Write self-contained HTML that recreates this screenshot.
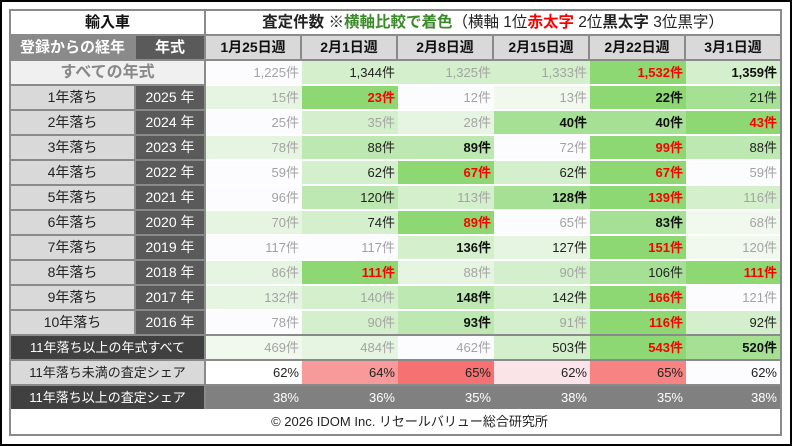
<!DOCTYPE html>
<html><head><meta charset="utf-8"><style>
*{margin:0;padding:0;box-sizing:border-box}
body{width:792px;height:446px;position:relative;background:#fff;font-family:"Liberation Sans","Noto Sans CJK JP",sans-serif;overflow:hidden}
#ob{position:absolute;left:0;top:0;width:792px;height:446px;border:2px solid #000}
#fr{position:absolute;left:9px;top:9px;width:773px;height:427px;background:#8a8a8a}
div.c{position:absolute;height:23px;line-height:23px;font-size:13px;white-space:nowrap;overflow:hidden}
.r{text-align:right;padding-right:3px}
.m{text-align:center}
.g{color:#a3a3a3}.k{color:#222}.b{color:#111;font-weight:bold}.red{color:#f00;font-weight:bold}
.l1{left:11px;width:123px;background:#d9d9d9;color:#222;font-size:14px!important;text-align:center}
.l2{left:136px;width:68px;background:#5a5a5a;color:#fff;font-size:14px!important;text-align:center}
.d1{left:206px;width:96px}.d2{left:302px;width:96px}.d3{left:398px;width:96px}.d4{left:494px;width:96px}.d5{left:590px;width:96px}.d6{left:686px;width:94px}
.h{background:#d9d9d9;font-weight:bold;font-size:14px!important;text-align:center;color:#111;width:94px}
.w0{background:#fcfcfe}.w1{background:#f1f9ee}.w2{background:#e6f5e1}.w3{background:#d4efcb}.w4{background:#bde8b1}.w5{background:#a6e095}.w6{background:#8ed873}
</style></head><body>
<div id="ob"></div>
<div id="fr"></div>
<div style="position:absolute;left:206px;top:84px;width:574px;height:250px;background:#fff"></div>
<div style="position:absolute;left:11px;top:409px;width:769px;height:25px;background:#fff;font-size:13px;line-height:26px;text-align:center;color:#222;padding-left:28px">© 2026 IDOM Inc. リセールバリュー総合研究所</div>

<div class="c m" style="left:11px;top:11px;width:193px;background:#fff;font-weight:bold;font-size:15px;color:#111">輸入車</div>
<div class="c m" style="left:206px;top:11px;width:574px;background:#fff;font-size:15.5px;color:#222"><b>査定件数</b> ※<b style="color:#3a8a2a">横軸比較で着色</b>（横軸 1位<b style="color:#f00">赤太字</b> 2位<b>黒太字</b> 3位黒字）</div>

<div class="c m" style="left:11px;top:36px;width:123px;background:#8a8a8a;color:#fff;font-weight:bold;font-size:15px">登録からの経年</div>
<div class="c m" style="left:136px;top:36px;width:68px;background:#5a5a5a;color:#fff;font-weight:bold;font-size:15px">年式</div>
<div class="c h d1" style="top:36px;width:94px">1月25日週</div>
<div class="c h d2" style="top:36px;width:94px">2月1日週</div>
<div class="c h d3" style="top:36px;width:94px">2月8日週</div>
<div class="c h d4" style="top:36px;width:94px">2月15日週</div>
<div class="c h d5" style="top:36px;width:94px">2月22日週</div>
<div class="c h d6" style="top:36px;width:94px">3月1日週</div>

<div class="c m" style="left:11px;top:61px;width:193px;background:#f0f0f0;color:#888;font-weight:bold;font-size:16px">すべての年式</div>
<div class="c r d1 w0 g" style="top:61px">1,225件</div><div class="c r d2 w3 k" style="top:61px">1,344件</div><div class="c r d3 w3 g" style="top:61px">1,325件</div><div class="c r d4 w3 g" style="top:61px">1,333件</div><div class="c r d5 w6 red" style="top:61px">1,532件</div><div class="c r d6 w3 b" style="top:61px">1,359件</div>

<div class="c l1" style="top:86px">1年落ち</div><div class="c l2" style="top:86px">2025 年</div>
<div class="c r d1 w2 g" style="top:86px">15件</div><div class="c r d2 w6 red" style="top:86px">23件</div><div class="c r d3 w0 g" style="top:86px">12件</div><div class="c r d4 w1 g" style="top:86px">13件</div><div class="c r d5 w6 b" style="top:86px">22件</div><div class="c r d6 w5 k" style="top:86px">21件</div>

<div class="c l1" style="top:111px">2年落ち</div><div class="c l2" style="top:111px">2024 年</div>
<div class="c r d1 w0 g" style="top:111px">25件</div><div class="c r d2 w3 g" style="top:111px">35件</div><div class="c r d3 w2 g" style="top:111px">28件</div><div class="c r d4 w5 b" style="top:111px">40件</div><div class="c r d5 w5 b" style="top:111px">40件</div><div class="c r d6 w6 red" style="top:111px">43件</div>

<div class="c l1" style="top:136px">3年落ち</div><div class="c l2" style="top:136px">2023 年</div>
<div class="c r d1 w2 g" style="top:136px">78件</div><div class="c r d2 w4 k" style="top:136px">88件</div><div class="c r d3 w4 b" style="top:136px">89件</div><div class="c r d4 w0 g" style="top:136px">72件</div><div class="c r d5 w6 red" style="top:136px">99件</div><div class="c r d6 w4 k" style="top:136px">88件</div>

<div class="c l1" style="top:161px">4年落ち</div><div class="c l2" style="top:161px">2022 年</div>
<div class="c r d1 w0 g" style="top:161px">59件</div><div class="c r d2 w3 k" style="top:161px">62件</div><div class="c r d3 w6 red" style="top:161px">67件</div><div class="c r d4 w3 k" style="top:161px">62件</div><div class="c r d5 w6 red" style="top:161px">67件</div><div class="c r d6 w0 g" style="top:161px">59件</div>

<div class="c l1" style="top:186px">5年落ち</div><div class="c l2" style="top:186px">2021 年</div>
<div class="c r d1 w0 g" style="top:186px">96件</div><div class="c r d2 w4 k" style="top:186px">120件</div><div class="c r d3 w3 g" style="top:186px">113件</div><div class="c r d4 w5 b" style="top:186px">128件</div><div class="c r d5 w6 red" style="top:186px">139件</div><div class="c r d6 w3 g" style="top:186px">116件</div>

<div class="c l1" style="top:211px">6年落ち</div><div class="c l2" style="top:211px">2020 年</div>
<div class="c r d1 w2 g" style="top:211px">70件</div><div class="c r d2 w3 k" style="top:211px">74件</div><div class="c r d3 w6 red" style="top:211px">89件</div><div class="c r d4 w0 g" style="top:211px">65件</div><div class="c r d5 w5 b" style="top:211px">83件</div><div class="c r d6 w1 g" style="top:211px">68件</div>

<div class="c l1" style="top:236px">7年落ち</div><div class="c l2" style="top:236px">2019 年</div>
<div class="c r d1 w0 g" style="top:236px">117件</div><div class="c r d2 w0 g" style="top:236px">117件</div><div class="c r d3 w3 b" style="top:236px">136件</div><div class="c r d4 w2 k" style="top:236px">127件</div><div class="c r d5 w6 red" style="top:236px">151件</div><div class="c r d6 w1 g" style="top:236px">120件</div>

<div class="c l1" style="top:261px">8年落ち</div><div class="c l2" style="top:261px">2018 年</div>
<div class="c r d1 w2 g" style="top:261px">86件</div><div class="c r d2 w6 red" style="top:261px">111件</div><div class="c r d3 w2 g" style="top:261px">88件</div><div class="c r d4 w3 g" style="top:261px">90件</div><div class="c r d5 w5 k" style="top:261px">106件</div><div class="c r d6 w6 red" style="top:261px">111件</div>

<div class="c l1" style="top:286px">9年落ち</div><div class="c l2" style="top:286px">2017 年</div>
<div class="c r d1 w2 g" style="top:286px">132件</div><div class="c r d2 w3 g" style="top:286px">140件</div><div class="c r d3 w4 b" style="top:286px">148件</div><div class="c r d4 w3 k" style="top:286px">142件</div><div class="c r d5 w6 red" style="top:286px">166件</div><div class="c r d6 w0 g" style="top:286px">121件</div>

<div class="c l1" style="top:311px">10年落ち</div><div class="c l2" style="top:311px">2016 年</div>
<div class="c r d1 w0 g" style="top:311px">78件</div><div class="c r d2 w3 g" style="top:311px">90件</div><div class="c r d3 w4 b" style="top:311px">93件</div><div class="c r d4 w3 g" style="top:311px">91件</div><div class="c r d5 w6 red" style="top:311px">116件</div><div class="c r d6 w3 k" style="top:311px">92件</div>

<div class="c m" style="left:11px;top:336px;width:193px;background:#404040;color:#fff;font-size:13px">11年落ち以上の年式すべて</div>
<div class="c r d1 w1 g" style="top:336px">469件</div><div class="c r d2 w2 g" style="top:336px">484件</div><div class="c r d3 w0 g" style="top:336px">462件</div><div class="c r d4 w3 k" style="top:336px">503件</div><div class="c r d5 w6 red" style="top:336px">543件</div><div class="c r d6 w5 b" style="top:336px">520件</div>

<div class="c m" style="left:11px;top:361px;width:193px;background:#d9d9d9;color:#222;font-size:13px">11年落ち未満の査定シェア</div>
<div class="c r d1 k" style="top:361px;background:#fff">62%</div><div class="c r d2 k" style="top:361px;background:#f89a9a">64%</div><div class="c r d3 k" style="top:361px;background:#f67272">65%</div><div class="c r d4 k" style="top:361px;background:#fbe4e7">62%</div><div class="c r d5 k" style="top:361px;background:#f88383">65%</div><div class="c r d6 k" style="top:361px;background:#fcfcfe">62%</div>

<div class="c m" style="left:11px;top:386px;width:193px;background:#404040;color:#fff;font-size:13px">11年落ち以上の査定シェア</div>
<div class="c r d1" style="top:386px;background:#808080;color:#fff">38%</div><div class="c r d2" style="top:386px;background:#808080;color:#fff">36%</div><div class="c r d3" style="top:386px;background:#808080;color:#fff">35%</div><div class="c r d4" style="top:386px;background:#808080;color:#fff">38%</div><div class="c r d5" style="top:386px;background:#808080;color:#fff">35%</div><div class="c r d6" style="top:386px;background:#808080;color:#fff">38%</div>
</body></html>
